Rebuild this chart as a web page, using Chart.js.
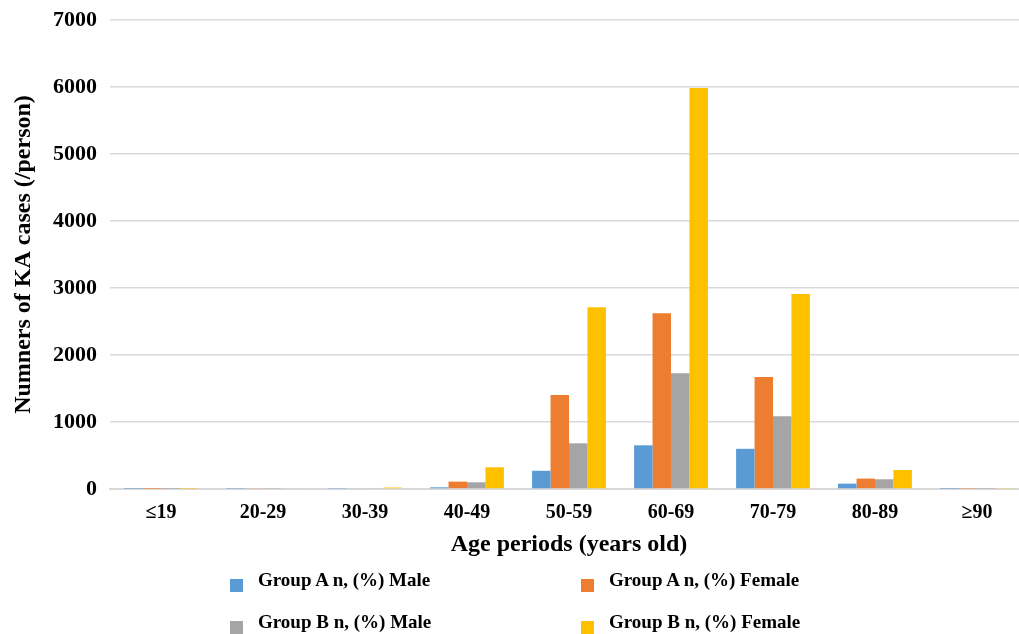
<!DOCTYPE html>
<html lang="en">
<head>
  <meta charset="UTF-8">
  <title>KA cases by age period</title>
  <style>
    html, body { margin: 0; padding: 0; background: #fff; overflow: hidden; }
    #wrap { position: relative; width: 1028px; height: 634px; }
    #legend { position: absolute; left: 0; top: 0; width: 1019px; height: 634px; pointer-events: none;
      font-family: "Liberation Serif", "Times New Roman", serif; font-weight: bold; font-size: 19px; color: #000; }
    .item { position: absolute; white-space: nowrap; line-height: 22px; }
    .item span.box { position: absolute; width: 13px; height: 13px; }
  </style>
</head>
<body>
  <div id="wrap">
    <canvas id="chart" width="1028" height="634"></canvas>
    <div id="legend"></div>
  </div>

  <script src="https://cdn.jsdelivr.net/npm/chart.js"></script>
  <script>
    // age periods and counts
    const ageGroups = ['≤19', '20-29', '30-39', '40-49', '50-59', '60-69', '70-79', '80-89', '≥90'];
    const groupAMale   = [3, 5, 6, 25, 272, 652, 600, 80, 3];
    const groupAFemale = [2, 8, 12, 110, 1403, 2622, 1672, 155, 5];
    const groupBMale   = [2, 6, 9, 100, 682, 1727, 1085, 145, 4];
    const groupBFemale = [4, 12, 22, 324, 2712, 5985, 2910, 284, 8];
    const seriesNames  = ['Group A n, (%) Male', 'Group A n, (%) Female', 'Group B n, (%) Male', 'Group B n, (%) Female'];
    const seriesColors = ['#5B9BD5', '#ED7D31', '#A5A5A5', '#FFC000'];
    const yTicks = [0, 1000, 2000, 3000, 4000, 5000, 6000, 7000];

    const serif = '"Liberation Serif", "Times New Roman", serif';
    const allData = [groupAMale, groupAFemale, groupBMale, groupBFemale];

    new Chart(document.getElementById('chart').getContext('2d'), {
      type: 'bar',
      data: {
        labels: ageGroups,
        datasets: allData.map((d, i) => ({
          label: seriesNames[i],
          data: d,
          backgroundColor: seriesColors[i],
          categoryPercentage: 0.724,
          barPercentage: 1.0
        }))
      },
      options: {
        responsive: false,
        animation: false,
        layout: { padding: { top: 20, left: 9, right: 0, bottom: 70 } },
        plugins: { legend: { display: false }, tooltip: { enabled: false } },
        scales: {
          x: {
            afterFit: ax => { ax.height = 75; },
            grid: { display: false, drawTicks: false },
            border: { color: '#d9d9d9', width: 2 },
            ticks: { color: '#000', font: { family: serif, weight: 'bold', size: 20 }, padding: 12 },
            title: { display: true, text: 'Age periods (years old)', color: '#000',
              font: { family: serif, weight: 'bold', size: 24 }, padding: { top: 0, bottom: 5 } }
          },
          y: {
            min: 0, max: 7000,
            afterBuildTicks: ax => { ax.ticks = yTicks.map(v => ({ value: v })); },
            afterFit: ax => { ax.width = 101; ax.paddingTop = 0; },
            grid: { color: '#d9d9d9', lineWidth: 1.5, drawTicks: false },
            border: { display: false },
            ticks: { color: '#000', font: { family: serif, weight: 'bold', size: 22 }, padding: 13,
              callback: v => String(v) },
            title: { display: true, text: 'Numners of KA cases (/person)', color: '#000',
              font: { family: serif, weight: 'bold', size: 24 }, padding: { top: 0, bottom: 0 } }
          }
        }
      }
    });

    // legend laid out 2 x 2 like the original
    const legendPos = [[230, 569], [581, 569], [230, 611], [581, 611]];
    const legend = document.getElementById('legend');
    seriesNames.forEach((name, i) => {
      const it = document.createElement('div');
      it.className = 'item';
      it.style.left = legendPos[i][0] + 'px';
      it.style.top = legendPos[i][1] + 'px';
      it.innerHTML = `<span class="box" style="background:${seriesColors[i]};left:0;top:10px"></span>` +
                     `<span style="margin-left:28px">${name}</span>`;
      legend.appendChild(it);
    });
  </script>
</body>
</html>
